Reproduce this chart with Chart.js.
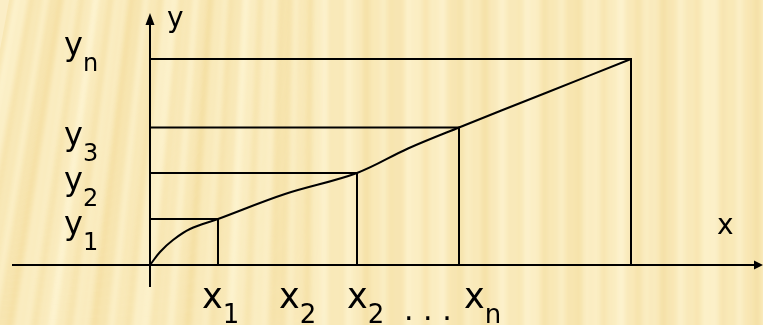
<!DOCTYPE html>
<html lang="en">
<head>
    <meta charset="UTF-8">
    <title>Curve with marked points</title>
    <script src="https://cdn.jsdelivr.net/npm/chart.js"></script>
    <style>
        html, body {
            margin: 0;
            padding: 0;
            background: #fbedc3;
        }
        .chart-container {
            position: relative;
            width: 763px;
            height: 325px;
        }
    </style>
</head>
<body>

    <div class="chart-container">
        <canvas id="curveChart"></canvas>
    </div>

    <script>
        // marked points (x_i, y_i), origin at 0,0
        const pointX = [68, 207, 309, 481];
        const pointY = [46, 92, 137.5, 206];

        // the curve itself
        const curveX = [0, 10, 23, 40, 68, 135, 207, 258, 309, 395, 481];
        const curveY = [0, 13, 25, 36, 46, 71, 92, 116.5, 137.5, 171.8, 206];

        // tick labels (letter + subscript)
        const yTickMain = ["y", "y", "y", "y"];
        const yTickSub = ["1", "2", "3", "n"];
        const xTickMain = ["x", "x", "x", "x"];
        const xTickSub = ["1", "2", "2", "n"];
        const dotsLabel = ". . .";
        const xAxisTitle = "x";
        const yAxisTitle = "y";

        // layout only
        const xLabelAt = [52, 129, 197, 314];
        const dotsAt = 254;
        const yLabelShift = [15, 17, 17, -4];
        const xAxisExtent = [-138, 613];
        const yAxisExtent = [-22, 252];

        const FONT = '"DejaVu Sans", Verdana, sans-serif';

        const curveData = curveX.map((v, i) => ({ x: v, y: curveY[i] }));

        // one "corner" per marked point: (0, yi) -> (xi, yi) -> (xi, 0)
        const cornerSets = pointX.map((px, i) => ({
            data: [{ x: 0, y: pointY[i] }, { x: px, y: pointY[i] }, { x: px, y: 0 }],
            borderColor: "#000",
            borderWidth: 2,
            pointRadius: 0,
            tension: 0
        }));

        function drawSub(ctx, main, sub, px, py, mainFont, subFont, drop) {
            ctx.font = mainFont;
            ctx.fillText(main, px, py);
            const w = ctx.measureText(main).width;
            ctx.font = subFont;
            ctx.fillText(sub, px + w, py + drop);
        }

        // soft stripy paper background
        const paperPlugin = {
            id: "paper",
            beforeDraw(chart) {
                const { ctx, width, height } = chart;
                ctx.save();
                ctx.fillStyle = "#fbeec6";
                ctx.fillRect(0, 0, width, height);
                for (let c = -50; c < width; c++) {
                    const t = 0.5 + 0.25 * Math.sin(c * 0.21) + 0.15 * Math.sin(c * 0.067 + 1.3) + 0.08 * Math.sin(c * 0.53 + 2.1);
                    const r = Math.round(253 - 8 * t);
                    const g = Math.round(243 - 19 * t);
                    const b = Math.round(207 - 42 * t);
                    const slant = Math.max(0, (330 - c) / 330) * 0.16;
                    ctx.strokeStyle = `rgb(${r},${g},${b})`;
                    ctx.lineWidth = 1.5;
                    ctx.beginPath();
                    ctx.moveTo(c, height);
                    ctx.lineTo(c + slant * height, 0);
                    ctx.stroke();
                }
                ctx.restore();
            }
        };

        // axes with arrows and all the labels
        const axesPlugin = {
            id: "axesAndLabels",
            beforeDatasetsDraw(chart) {
                const { ctx, scales: { x, y } } = chart;
                const x0 = x.getPixelForValue(0);
                const y0 = y.getPixelForValue(0);
                const xl = x.getPixelForValue(xAxisExtent[0]);
                const xr = x.getPixelForValue(xAxisExtent[1]);
                const yb = y.getPixelForValue(yAxisExtent[0]);
                const yt = y.getPixelForValue(yAxisExtent[1]);
                ctx.save();
                ctx.strokeStyle = "#000";
                ctx.fillStyle = "#000";
                ctx.lineWidth = 2;
                ctx.beginPath();
                ctx.moveTo(xl, y0);
                ctx.lineTo(xr - 6, y0);
                ctx.moveTo(x0, yb);
                ctx.lineTo(x0, yt + 10);
                ctx.stroke();
                // arrow heads
                ctx.beginPath();
                ctx.moveTo(xr, y0);
                ctx.lineTo(xr - 9, y0 - 4.5);
                ctx.lineTo(xr - 9, y0 + 4.5);
                ctx.closePath();
                ctx.fill();
                ctx.beginPath();
                ctx.moveTo(x0, yt);
                ctx.lineTo(x0 - 4.5, yt + 12);
                ctx.lineTo(x0 + 4.5, yt + 12);
                ctx.closePath();
                ctx.fill();
                ctx.restore();
            },
            afterDatasetsDraw(chart) {
                const { ctx, scales: { x, y } } = chart;
                const x0 = x.getPixelForValue(0);
                const y0 = y.getPixelForValue(0);
                ctx.save();
                ctx.fillStyle = "#000";
                ctx.textBaseline = "alphabetic";
                ctx.textAlign = "left";

                yTickMain.forEach((m, i) => {
                    const py = y.getPixelForValue(pointY[i]) + yLabelShift[i];
                    drawSub(ctx, m, yTickSub[i], 64, py, `32px ${FONT}`, `24px ${FONT}`, 16);
                });

                const xBase = y0 + 43;
                xTickMain.forEach((m, i) => {
                    drawSub(ctx, m, xTickSub[i], x.getPixelForValue(xLabelAt[i]), xBase, `35px ${FONT}`, `26px ${FONT}`, 15);
                });
                ctx.font = `30px ${FONT}`;
                ctx.fillText(dotsLabel, x.getPixelForValue(dotsAt), xBase + 12);

                ctx.font = `28px ${FONT}`;
                ctx.fillText(yAxisTitle, x0 + 17, 27);
                ctx.fillText(xAxisTitle, 717, y0 - 31);
                ctx.restore();
            }
        };

        new Chart(document.getElementById("curveChart"), {
            type: "line",
            data: {
                datasets: [
                    {
                        data: curveData,
                        borderColor: "#000",
                        borderWidth: 2,
                        pointRadius: 0,
                        tension: 0.35
                    },
                    ...cornerSets
                ]
            },
            options: {
                responsive: true,
                maintainAspectRatio: false,
                animation: false,
                layout: { padding: 0 },
                scales: {
                    x: { type: "linear", min: -150, max: 613, display: false },
                    y: { type: "linear", min: -60, max: 265, display: false }
                },
                plugins: {
                    legend: { display: false },
                    tooltip: { enabled: false }
                }
            },
            plugins: [paperPlugin, axesPlugin]
        });
    </script>

</body>
</html>
